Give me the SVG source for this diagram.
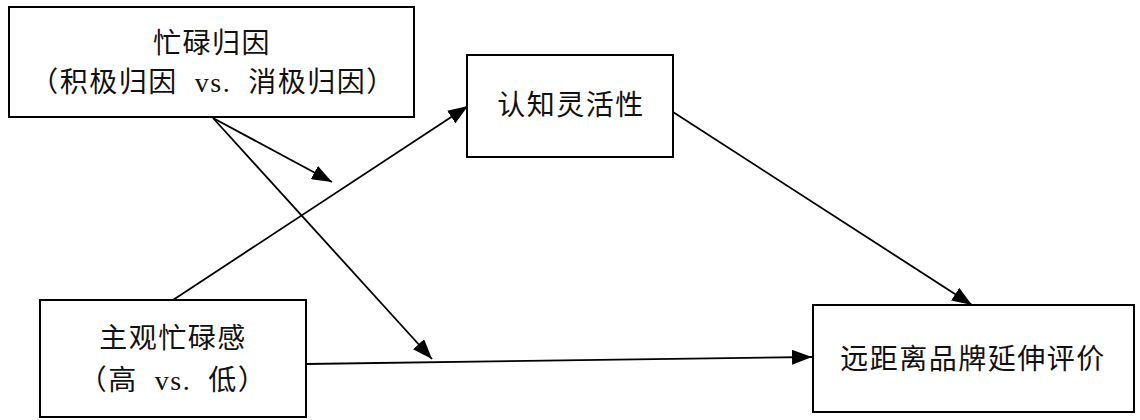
<svg xmlns="http://www.w3.org/2000/svg" width="1140" height="420" viewBox="0 0 1140 420">
<style>
.box{fill:#fff;stroke:#000;stroke-width:2}
.t{font-family:"Liberation Serif","Noto Sans CJK SC",serif;font-size:28px;fill:#111;text-anchor:middle;letter-spacing:1.5px}
.c{stroke:#000;stroke-width:1.8;fill:none;marker-end:url(#ah)}
</style>
<defs>
<marker id="ah" viewBox="0 0 20 15" refX="20" refY="7.5" markerWidth="20" markerHeight="15" markerUnits="userSpaceOnUse" orient="auto">
<path d="M0,0 L20,7.5 L0,15 Z" fill="#000"/>
</marker>
</defs>
<rect width="1140" height="420" fill="#fff"/>
<g id="connectors">
<line class="c" x1="213" y1="118" x2="332" y2="182"/>
<line class="c" x1="213" y1="118" x2="432" y2="359"/>
<line class="c" x1="173" y1="300" x2="468" y2="106"/>
<line class="c" x1="673" y1="112" x2="972" y2="305"/>
<line class="c" x1="306" y1="364" x2="812" y2="357"/>
</g>
<g id="node-attribution">
<rect class="box" x="9" y="7" width="405" height="110"/>
<text class="t" x="212" y="53">忙碌归因</text>
<text class="t" x="213" y="92">（积极归因&#160;&#160;vs.&#160;&#160;消极归因）</text>
</g>
<g id="node-flexibility">
<rect class="box" x="467" y="55" width="206" height="102"/>
<text class="t" x="571" y="115">认知灵活性</text>
</g>
<g id="node-busyness">
<rect class="box" x="40" y="300" width="266" height="117"/>
<text class="t" x="173" y="348">主观忙碌感</text>
<text class="t" x="173" y="390">（高&#160;&#160;vs.&#160;&#160;低）</text>
</g>
<g id="node-evaluation">
<rect class="box" x="813" y="305" width="321" height="107"/>
<text class="t" x="973" y="369">远距离品牌延伸评价</text>
</g>
</svg>
